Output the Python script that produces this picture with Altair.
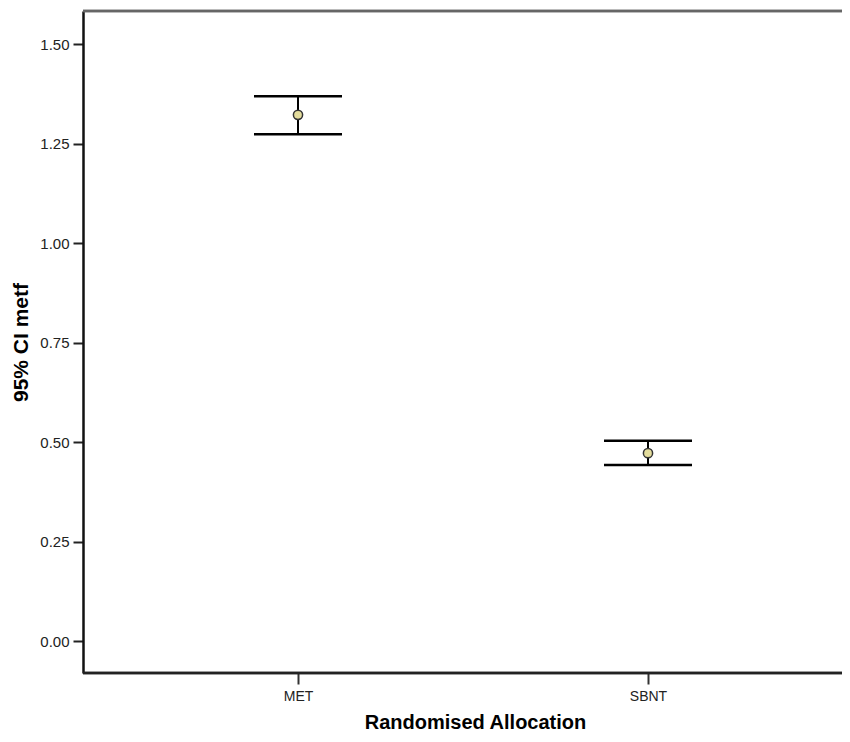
import altair as alt
import pandas as pd

categories = ["MET", "SBNT"]
means = [1.322, 0.472]
lowers = [1.273, 0.442]
uppers = [1.369, 0.503]
y_ticks = [0.0, 0.25, 0.5, 0.75, 1.0, 1.25, 1.5]

df = pd.DataFrame({"group": categories, "mean": means, "lo": lowers, "hi": uppers})

W, H = 759, 662
FONT = "Liberation Sans"

x_enc = alt.X(
    "group:N",
    title="Randomised Allocation",
    sort=categories,
    scale=alt.Scale(type="point", range=[215, 565], padding=0),
    axis=alt.Axis(
        labelAngle=0, labelFontSize=14, labelFont=FONT, labelColor="#222",
        tickSize=11, tickWidth=2, tickColor="#333", labelPadding=5,
        domain=False,
        titleFontSize=20, titleFont=FONT, titleFontWeight="bold", titleColor="#000",
        titleX=392, titleY=55, titleBaseline="alphabetic", titleAlign="center",
    ),
)
y_scale = alt.Scale(domain=[-0.0804, 1.583], nice=False, zero=False)
y_axis = alt.Axis(
    values=y_ticks, format=".2f", labelFontSize=15, labelFont=FONT, labelColor="#222",
    tickSize=10, tickWidth=2, tickColor="#222", labelPadding=4,
    domainColor="#111", domainWidth=2.5, grid=False,
    titleFontSize=21, titleFont=FONT, titleFontWeight="bold", titleColor="#000",
    titlePadding=8,
)

base = alt.Chart(df)

whisker = base.mark_rule(color="#000", strokeWidth=2).encode(
    x=x_enc,
    y=alt.Y("lo:Q", title="95% CI metf", scale=y_scale, axis=y_axis),
    y2="hi:Q",
)
caps_hi = base.mark_tick(orient="horizontal", size=88, thickness=2.5, color="#000", opacity=1).encode(
    x=alt.X("group:N", sort=categories), y=alt.Y("hi:Q")
)
caps_lo = base.mark_tick(orient="horizontal", size=88, thickness=2.5, color="#000", opacity=1).encode(
    x=alt.X("group:N", sort=categories), y=alt.Y("lo:Q")
)
dots = base.mark_point(shape="circle", filled=True, size=85, fill="#e3dc9c",
                       stroke="#333", strokeWidth=1.5, opacity=1).encode(
    x=alt.X("group:N", sort=categories), y=alt.Y("mean:Q")
)
top_border = base.mark_rule(color="#666", strokeWidth=2.5).encode(
    x=alt.value(0), x2=alt.value(W), y=alt.value(0)
)
bottom_border = base.mark_rule(color="#222", strokeWidth=2.5).encode(
    x=alt.value(0), x2=alt.value(W), y=alt.value(H)
)

chart = alt.layer(whisker, caps_hi, caps_lo, dots, top_border, bottom_border).properties(
    width=W, height=H,
    autosize=alt.AutoSizeParams(type="none"),
    padding={"left": 75, "top": 3, "right": 0, "bottom": 60},
    background="white",
).configure_view(stroke="transparent")

chart.save("out.html", embed_options={"renderer": "svg", "actions": False})
